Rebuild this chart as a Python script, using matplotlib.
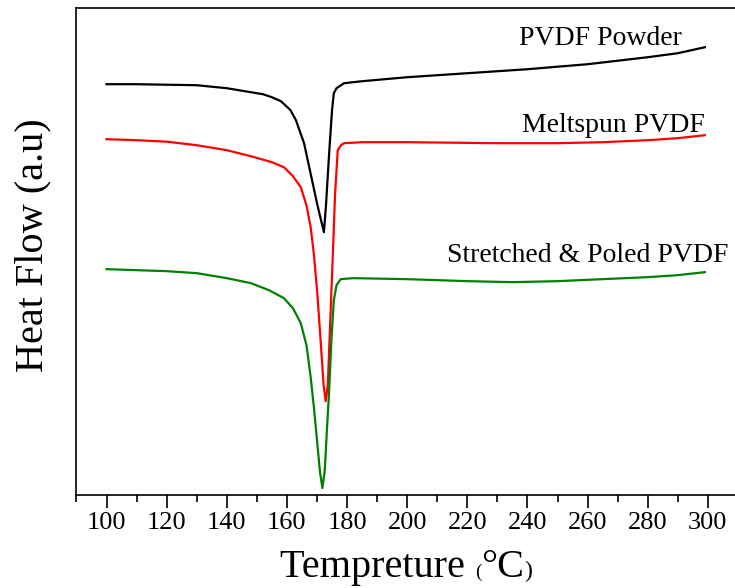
import matplotlib
matplotlib.use("Agg")
import matplotlib.pyplot as plt
from matplotlib.ticker import MultipleLocator

# DSC curves of PVDF samples, heat flow in arbitrary units (offset per curve)
t_powder = [100, 110, 120, 130, 140, 148, 152, 155, 158, 161.2, 163, 165.7, 168, 170,
            171.5, 172.3, 173, 174, 175, 175.6, 176.5, 178, 179, 185, 200, 220, 240,
            260, 280, 290, 299]
hf_powder = [84, 84, 84.5, 85, 88, 92, 94, 97, 101, 110, 120, 143, 175, 203,
             222, 232, 205, 155, 110, 93, 88, 85, 83, 81, 77, 73, 69,
             64, 57, 53, 47]

t_melt = [100, 110, 120, 130, 140, 148, 155, 159, 162, 164.6, 166.5, 167.9, 169, 170.1,
          171.2, 172.2, 172.9, 173.6, 174.3, 175.2, 176, 176.9, 178, 179, 185, 200,
          230, 250, 265, 280, 290, 299]
hf_melt = [139, 140, 141.5, 145, 150, 156, 162, 167, 176, 187, 205, 227, 255, 293,
           340, 385, 401, 385, 330, 260, 195, 150, 145, 143, 142, 142,
           143, 143, 142, 140, 138, 135]

t_poled = [100, 110, 120, 130, 140, 148, 154, 159, 162, 164.6, 166.5, 167.9, 169, 170.1,
           171, 171.8, 172.6, 173.3, 174, 174.8, 175.6, 176.5, 177.9, 182, 200, 220,
           235, 250, 265, 280, 290, 299]
hf_poled = [269, 270, 271, 273, 278, 283, 290, 298, 308, 323, 345, 377, 408, 443,
            472, 488, 470, 430, 393, 340, 300, 285, 279, 278, 279, 281,
            282, 281, 279, 277, 275, 272]


def to_au(vals):
    return [(495 - v) / 10 for v in vals]


plt.rcParams["font.family"] = ["Liberation Serif", "DejaVu Serif"]

fig = plt.figure(figsize=(7.35, 5.88), dpi=100)
ax = fig.add_axes([0.104, 0.158, 0.90, 0.828])

ax.plot(t_powder, to_au(hf_powder), color="black", lw=1.6)
ax.plot(t_melt, to_au(hf_melt), color="red", lw=1.6)
ax.plot(t_poled, to_au(hf_poled), color="green", lw=1.6)

ax.text(237.1, (495 - 45) / 10, "PVDF Powder", fontsize=20, va="baseline")
ax.text(238.1, (495 - 131.5) / 10, "Meltspun PVDF", fontsize=20, va="baseline")
ax.text(213.1, (495 - 261.5) / 10, "Stretched & Poled PVDF", fontsize=20, va="baseline")

ax.set_xlim(90, 310)
ax.set_ylim(0, 48.7)
ax.set_xticks(range(100, 301, 20))
ax.xaxis.set_minor_locator(MultipleLocator(10))
ax.tick_params(axis="x", which="major", direction="out", length=9, width=1.2, labelsize=19)
ax.tick_params(axis="x", which="minor", direction="out", length=5, width=1.2)
ax.set_yticks([])
for s in ax.spines.values():
    s.set_linewidth(1.2)

fig.text(33 / 735, 1 - 245 / 588, "Heat Flow (a.u)", fontsize=29,
         rotation=90, ha="center", va="center")

# x label drawn piece by piece so the brackets can be smaller
renderer = fig.canvas.get_renderer()
x = 280 / 735
base = 1 - 577 / 588
for piece, size in [("Tempreture ", 29), ("(", 14), ("°C", 29), (")", 17)]:
    t = fig.text(x, base, piece, fontsize=size, va="baseline", ha="left")
    bb = t.get_window_extent(renderer)
    x = bb.x1 / fig.bbox.width

plt.savefig("out.png", dpi=100)
